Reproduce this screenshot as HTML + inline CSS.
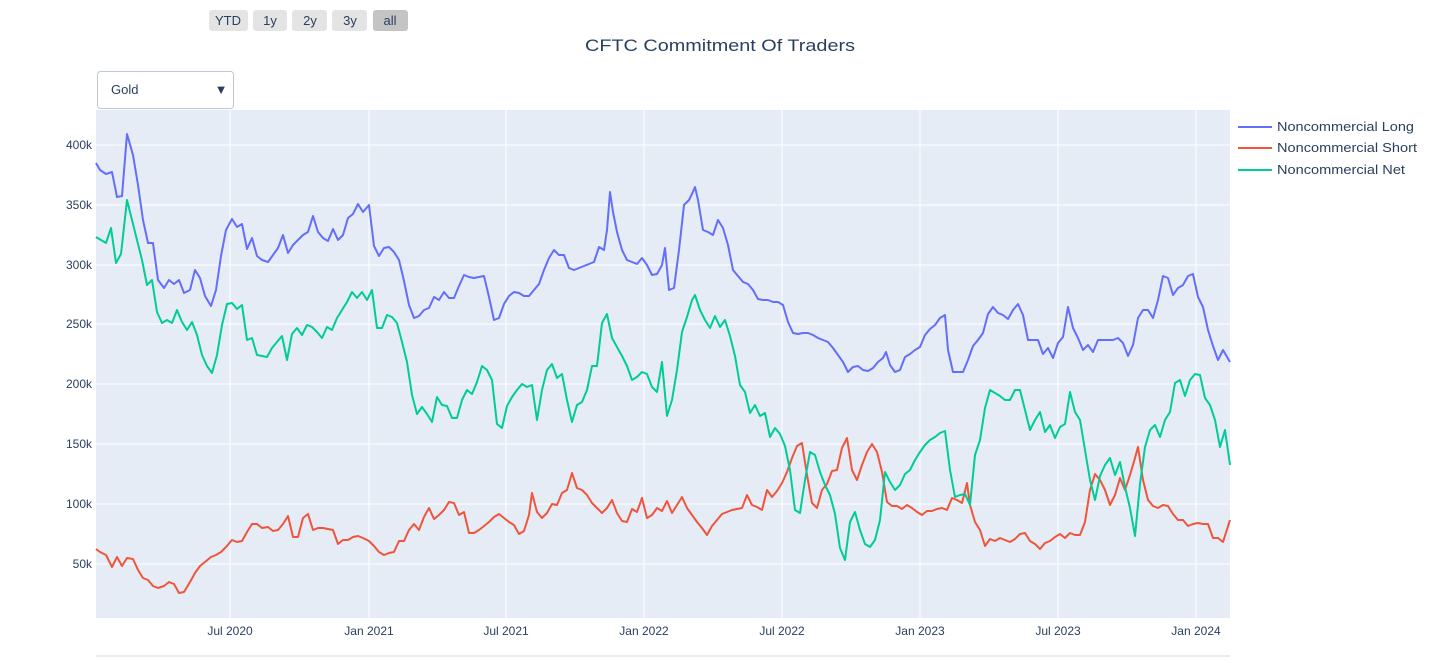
<!DOCTYPE html>
<html><head><meta charset="utf-8"><style>
body{margin:0;background:#fff;font-family:"Liberation Sans",sans-serif;}
</style></head><body>
<svg width="1446" height="658" xmlns="http://www.w3.org/2000/svg" font-family="Liberation Sans, sans-serif">
<rect x="96" y="110" width="1134" height="508" fill="#e5ecf6"/>
<g stroke="#fff" stroke-width="1">
<line x1="96" x2="1230" y1="145" y2="145"/><line x1="96" x2="1230" y1="205" y2="205"/>
<line x1="96" x2="1230" y1="265" y2="265"/><line x1="96" x2="1230" y1="324" y2="324"/>
<line x1="96" x2="1230" y1="384" y2="384"/><line x1="96" x2="1230" y1="444" y2="444"/>
<line x1="96" x2="1230" y1="504" y2="504"/><line x1="96" x2="1230" y1="564" y2="564"/>
<line y1="110" y2="618" x1="230" x2="230"/><line y1="110" y2="618" x1="369" x2="369"/>
<line y1="110" y2="618" x1="506" x2="506"/><line y1="110" y2="618" x1="644" x2="644"/>
<line y1="110" y2="618" x1="782" x2="782"/><line y1="110" y2="618" x1="920" x2="920"/>
<line y1="110" y2="618" x1="1058" x2="1058"/><line y1="110" y2="618" x1="1196" x2="1196"/>
</g>
<g font-size="12" fill="#2a3f5f" text-anchor="end">
<text x="92" y="149">400k</text><text x="92" y="209">350k</text><text x="92" y="269">300k</text>
<text x="92" y="328">250k</text><text x="92" y="388">200k</text><text x="92" y="448">150k</text>
<text x="92" y="508">100k</text><text x="92" y="568">50k</text>
</g>
<g font-size="12" fill="#2a3f5f" text-anchor="middle">
<text x="230" y="635">Jul 2020</text><text x="369" y="635">Jan 2021</text><text x="506" y="635">Jul 2021</text>
<text x="644" y="635">Jan 2022</text><text x="782" y="635">Jul 2022</text><text x="920" y="635">Jan 2023</text>
<text x="1058" y="635">Jul 2023</text><text x="1196" y="635">Jan 2024</text>
</g>
<line x1="96" x2="1230" y1="656" y2="656" stroke="#e5ecf6" stroke-width="2"/>
<g fill="none" stroke-width="2" stroke-linejoin="round">
<polyline stroke="#636efa" points="96,163 100,170 106,174 112,172 117,197 122,196 127,134 133,155 138,185 143,220 148,243 153,243 158,280 164,288 169,280 174,284 179,280 184,293 190,290 195,270 200,278 205,296 211,306 216,290 221,256 226,230 232,219 237,227 242,224 247,249 252,238 257,256 262,260 268,262 273,255 278,248 283,235 288,253 293,245 298,240 303,235 308,232 313,216 318,232 323,238 328,241 333,229 338,240 343,235 348,218 353,214 358,204 363,212 369,205 374,246 379,256 384,248 389,247 394,252 399,260 404,281 409,305 414,318 419,316 424,310 429,308 434,297 439,300 444,292 449,298 454,298 459,286 464,275 469,277 474,278 479,277 484,276 489,297 494,320 499,318 504,304 509,296 514,292 519,293 524,296 529,296 534,290 539,284 544,270 549,258 554,250 559,255 564,255 569,268 574,270 579,268 584,266 589,264 594,262 599,247 604,250 607,230 610,192 613,212 617,232 622,250 627,260 632,262 637,264 642,258 647,265 652,275 657,274 662,265 665,248 669,290 674,288 679,250 684,205 689,200 692,194 695,187 698,200 703,230 708,232 713,235 718,220 723,228 728,245 733,270 738,276 743,282 748,284 753,290 758,299 763,300 768,300 773,302 778,302 783,305 788,322 793,333 798,334 803,333 808,333 813,335 818,338 823,340 828,342 833,348 838,355 843,362 848,372 853,367 858,366 863,370 868,371 873,368 878,362 883,358 886,352 890,365 895,372 900,370 905,357 910,354 915,350 920,347 925,335 930,329 935,325 940,318 945,315 948,350 953,372 958,372 963,372 968,360 973,346 978,340 983,333 988,314 993,307 998,313 1003,315 1008,319 1013,310 1018,304 1023,315 1028,340 1033,340 1038,340 1043,354 1048,348 1053,358 1058,343 1063,337 1068,307 1073,328 1078,338 1083,350 1088,345 1093,352 1098,340 1103,340 1108,340 1113,340 1118,338 1123,343 1128,356 1133,345 1138,318 1143,310 1148,310 1153,318 1158,300 1163,276 1168,278 1173,295 1178,288 1183,285 1188,276 1193,274 1198,297 1203,307 1208,330 1213,346 1218,360 1223,350 1230,362"/>
<polyline stroke="#ef553b" points="96,549 100,552 106,555 112,567 117,557 122,566 127,558 133,559 138,570 143,578 148,580 153,586 158,588 164,586 169,582 174,584 179,593 184,592 190,582 195,573 200,566 205,562 211,557 216,555 221,552 226,547 232,540 237,542 242,541 247,532 252,524 257,524 262,528 268,527 273,531 278,530 283,524 288,516 293,537 298,537 303,518 308,514 313,530 318,528 323,528 328,529 333,530 338,544 343,540 348,540 353,537 358,536 363,538 369,541 374,546 379,552 384,555 389,553 394,552 399,541 404,541 409,530 414,524 419,530 424,517 429,508 434,519 439,515 444,510 449,502 454,503 459,515 464,512 469,533 474,533 479,530 484,526 489,522 494,517 499,514 504,518 509,522 514,525 519,534 524,531 529,515 532,493 537,512 542,518 547,513 552,504 557,505 562,493 567,490 572,473 577,488 582,490 587,495 592,503 597,508 602,513 607,508 612,500 617,513 622,521 627,522 632,509 637,512 642,498 647,518 652,515 657,508 662,511 667,501 672,513 677,505 682,497 687,508 692,515 697,522 702,528 707,535 712,526 717,520 722,514 727,512 732,510 737,509 742,508 747,495 752,505 757,507 762,510 767,490 772,497 777,491 782,483 787,472 792,458 797,446 802,443 807,475 812,503 817,508 822,490 827,484 832,471 837,470 842,448 847,438 852,470 857,480 862,465 867,452 872,444 877,452 882,472 887,502 892,506 897,506 902,509 907,505 912,508 917,512 922,515 927,511 932,511 937,509 942,508 947,510 952,498 957,500 962,503 967,483 970,505 975,522 980,530 985,546 990,539 995,541 1000,538 1005,540 1010,542 1015,539 1020,534 1025,533 1030,541 1035,544 1040,549 1045,543 1050,541 1055,537 1060,534 1065,538 1070,533 1075,535 1080,535 1085,522 1090,490 1095,474 1100,480 1105,490 1110,505 1115,495 1120,478 1125,490 1130,475 1135,458 1138,447 1143,480 1148,500 1153,506 1158,508 1163,505 1168,506 1173,514 1178,520 1183,520 1188,526 1193,524 1198,523 1203,524 1208,524 1213,538 1218,538 1223,542 1230,520"/>
<polyline stroke="#00cc96" points="96,237 101,240 106,243 111,228 116,263 121,254 127,200 132,220 137,240 142,260 147,285 152,280 157,312 162,323 167,320 172,323 177,310 182,322 187,330 192,322 197,335 202,355 207,366 212,373 217,355 222,325 227,304 232,303 237,309 242,305 247,340 252,338 257,355 262,356 267,357 272,348 277,342 282,336 287,360 292,334 297,328 302,335 307,325 312,327 317,332 322,338 327,327 332,330 337,318 342,310 347,302 352,292 357,298 362,292 367,300 372,290 377,328 382,328 387,315 392,317 397,323 402,342 407,362 412,395 417,414 422,407 427,414 432,422 437,397 442,405 447,406 452,418 457,418 462,400 467,390 472,394 477,382 482,366 487,370 492,380 497,424 502,428 507,406 512,397 517,390 522,384 527,387 532,385 537,420 542,390 547,370 552,364 557,378 562,374 567,400 572,422 577,405 582,402 587,390 592,366 597,366 602,323 607,314 612,338 617,347 622,356 627,366 632,380 637,377 642,372 647,374 652,387 657,392 662,362 667,416 672,400 677,370 682,332 687,317 692,300 695,295 700,310 705,320 710,328 715,316 720,327 725,320 730,336 735,356 740,385 745,392 750,413 755,405 760,416 765,413 770,437 775,428 780,434 785,446 790,470 795,510 800,513 805,480 810,452 815,455 820,472 825,485 830,495 835,514 840,548 845,560 850,522 855,512 860,530 865,544 870,547 875,540 880,520 885,472 890,482 895,490 900,485 905,474 910,470 915,460 920,452 925,445 930,440 935,437 940,433 945,431 950,470 955,497 960,495 965,494 970,505 975,455 980,440 985,408 990,390 995,393 1000,396 1005,400 1010,400 1015,390 1020,390 1025,410 1030,430 1035,420 1040,412 1045,432 1050,425 1055,438 1060,427 1065,424 1070,392 1075,412 1080,420 1085,450 1090,480 1095,500 1100,476 1105,465 1110,458 1115,475 1120,462 1125,487 1130,508 1135,536 1140,484 1145,447 1150,430 1155,425 1160,437 1165,420 1170,412 1175,383 1180,380 1185,396 1190,380 1195,374 1200,375 1205,398 1210,405 1215,420 1220,447 1225,430 1230,465"/>
</g>
<text x="585" y="51" textLength="270" lengthAdjust="spacingAndGlyphs" font-size="17" fill="#2a3f5f">CFTC Commitment Of Traders</text>
<g font-size="13" fill="#2a3f5f">
<line x1="1238" x2="1272" y1="127" y2="127" stroke="#636efa" stroke-width="2"/><text x="1277" y="131" textLength="137" lengthAdjust="spacingAndGlyphs">Noncommercial Long</text>
<line x1="1238" x2="1272" y1="148" y2="148" stroke="#ef553b" stroke-width="2"/><text x="1277" y="152" textLength="140" lengthAdjust="spacingAndGlyphs">Noncommercial Short</text>
<line x1="1238" x2="1272" y1="170" y2="170" stroke="#00cc96" stroke-width="2"/><text x="1277" y="174" textLength="128" lengthAdjust="spacingAndGlyphs">Noncommercial Net</text>
</g>
<g font-size="13" fill="#2a3f5f" text-anchor="middle">
<rect x="209" y="10" width="39" height="21" rx="3" fill="#e4e4e4"/><text x="228" y="25">YTD</text>
<rect x="253" y="10" width="34" height="21" rx="3" fill="#e4e4e4"/><text x="270" y="25">1y</text>
<rect x="292" y="10" width="35" height="21" rx="3" fill="#e4e4e4"/><text x="310" y="25">2y</text>
<rect x="332" y="10" width="35" height="21" rx="3" fill="#e4e4e4"/><text x="350" y="25">3y</text>
<rect x="373" y="10" width="35" height="21" rx="3" fill="#c4c4c4"/><text x="390" y="25">all</text>
</g>
<rect x="97.5" y="71.5" width="136" height="37" rx="3" fill="#fff" stroke="#bec8d9"/>
<text x="111" y="94" font-size="13" fill="#2a3f5f">Gold</text>
<text x="221" y="94" font-size="13" fill="#2a3f5f" text-anchor="middle">▼</text>
</svg>
</body></html>
